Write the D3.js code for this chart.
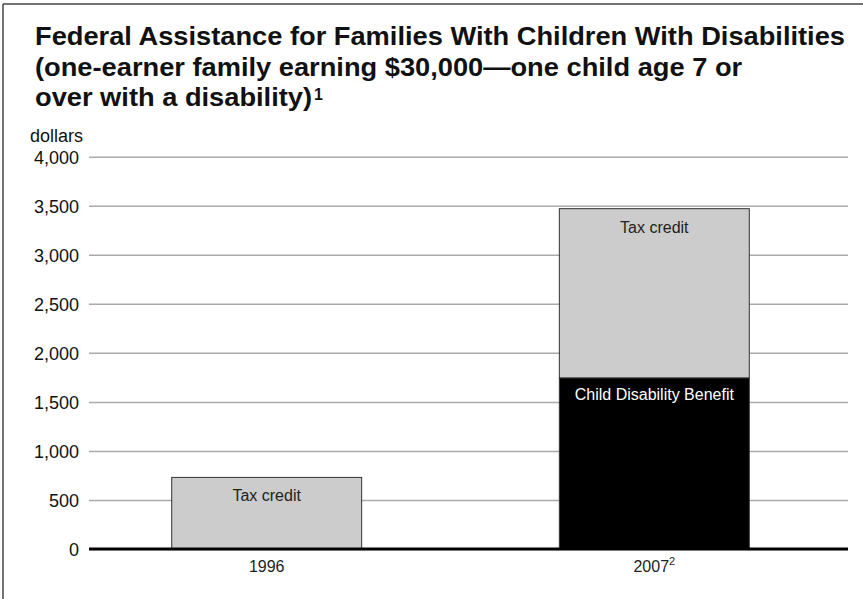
<!DOCTYPE html>
<html><head><meta charset="utf-8">
<script src="https://cdn.jsdelivr.net/npm/d3@7"></script>
<style>body{margin:0;background:#fff}svg{display:block}</style>
</head><body>
<svg id="chart" width="863" height="599"></svg>
<script>
const categories = ["1996", "2007"];
const categorySup = ["", "2"];
const taxCredit = [730, 1725];
const childDisabilityBenefit = [0, 1745];
const yTicks = [0, 500, 1000, 1500, 2000, 2500, 3000, 3500, 4000];
const titleLines = [
  "Federal Assistance for Families With Children With Disabilities",
  "(one-earner family earning $30,000\u2014one child age 7 or",
  "over with a disability)"
];
const titleSup = "1";
const yLabel = "dollars";

const svg = d3.select("#chart");
const W = 863, H = 599;
const gridX0 = 89, gridX1 = 848;
const y = d3.scaleLinear().domain([0, 4000]).range([549, 156.7]);
const x = d3.scaleBand().domain(categories).range([81, 840]).paddingInner(0.51).paddingOuter(0.234);

// frame
svg.append("line").attr("x1", 3).attr("x2", 3).attr("y1", 4).attr("y2", H).attr("stroke", "#444").attr("stroke-width", 1.5);
svg.append("line").attr("x1", 3).attr("x2", W).attr("y1", 4).attr("y2", 4).attr("stroke", "#444").attr("stroke-width", 1.5);

// title
const tg = svg.append("g").attr("font-family", "Liberation Sans, Arial, sans-serif").attr("font-weight", "bold").attr("font-size", 26).attr("fill", "#111");
const t1 = tg.append("text").attr("x", 35).attr("y", 45).text(titleLines[0]);
const ratio = 810 / t1.node().getComputedTextLength();
t1.attr("textLength", 810).attr("lengthAdjust", "spacingAndGlyphs");
const t2 = tg.append("text").attr("x", 35).attr("y", 76).text(titleLines[1]);
t2.attr("textLength", t2.node().getComputedTextLength() * ratio).attr("lengthAdjust", "spacingAndGlyphs");
const t3 = tg.append("text").attr("x", 35).attr("y", 106).text(titleLines[2]);
const t3len = t3.node().getComputedTextLength() * ratio;
t3.attr("textLength", t3len).attr("lengthAdjust", "spacingAndGlyphs");
tg.append("text").attr("x", 35 + t3len + 2).attr("y", 100).attr("font-size", 16).text(titleSup);

// y label
svg.append("text").attr("x", 30).attr("y", 142).attr("font-family", "Liberation Sans, Arial, sans-serif").attr("font-size", 18).attr("fill", "#111").text(yLabel);

// y axis with gridlines
const yAxis = d3.axisLeft(y).tickValues(yTicks).tickFormat(d3.format(",")).tickSize(gridX1 - gridX0).tickPadding(10);
const ya = svg.append("g").attr("transform", `translate(${gridX1},0)`).call(yAxis);
ya.select(".domain").remove();
ya.selectAll(".tick line").attr("stroke", "#aaa").attr("stroke-width", 1.5);
ya.selectAll(".tick text").attr("font-family", "Liberation Sans, Arial, sans-serif").attr("font-size", 18).attr("fill", "#111").attr("dy", "0.36em");

// bars
const stackData = categories.map((c, i) => ({cat: c, cdb: childDisabilityBenefit[i], tax: taxCredit[i]}));
const series = d3.stack().keys(["cdb", "tax"])(stackData);
const fills = {cdb: "#000", tax: "#cccccc"};
series.forEach(s => {
  svg.append("g").selectAll("rect").data(s.filter(d => d[1] > d[0])).join("rect")
    .attr("x", d => x(d.data.cat)).attr("width", x.bandwidth())
    .attr("y", d => y(d[1])).attr("height", d => y(d[0]) - y(d[1]))
    .attr("fill", fills[s.key]).attr("stroke", "#333").attr("stroke-width", 1);
});
// bar labels
series.forEach(s => {
  svg.append("g").selectAll("text").data(s.filter(d => d[1] > d[0])).join("text")
    .attr("x", d => x(d.data.cat) + x.bandwidth() / 2)
    .attr("y", d => y(d[1]) + (s.key === "tax" ? 24 : 22))
    .attr("text-anchor", "middle").attr("font-family", "Liberation Sans, Arial, sans-serif").attr("font-size", 16)
    .attr("fill", s.key === "tax" ? "#222" : "#fff")
    .text(s.key === "tax" ? "Tax credit" : "Child Disability Benefit");
});

// baseline
svg.append("line").attr("x1", gridX0).attr("x2", gridX1).attr("y1", y(0)).attr("y2", y(0)).attr("stroke", "#000").attr("stroke-width", 3);

// x labels
const xl = svg.append("g").selectAll("text").data(categories).join("text")
  .attr("x", d => x(d) + x.bandwidth() / 2).attr("y", 572).attr("text-anchor", "middle")
  .attr("font-family", "Liberation Sans, Arial, sans-serif").attr("font-size", 16).attr("fill", "#222");
xl.append("tspan").text(d => d);
xl.append("tspan").attr("font-size", 11).attr("dy", -7).text((d, i) => categorySup[i]);
</script>
</body></html>
